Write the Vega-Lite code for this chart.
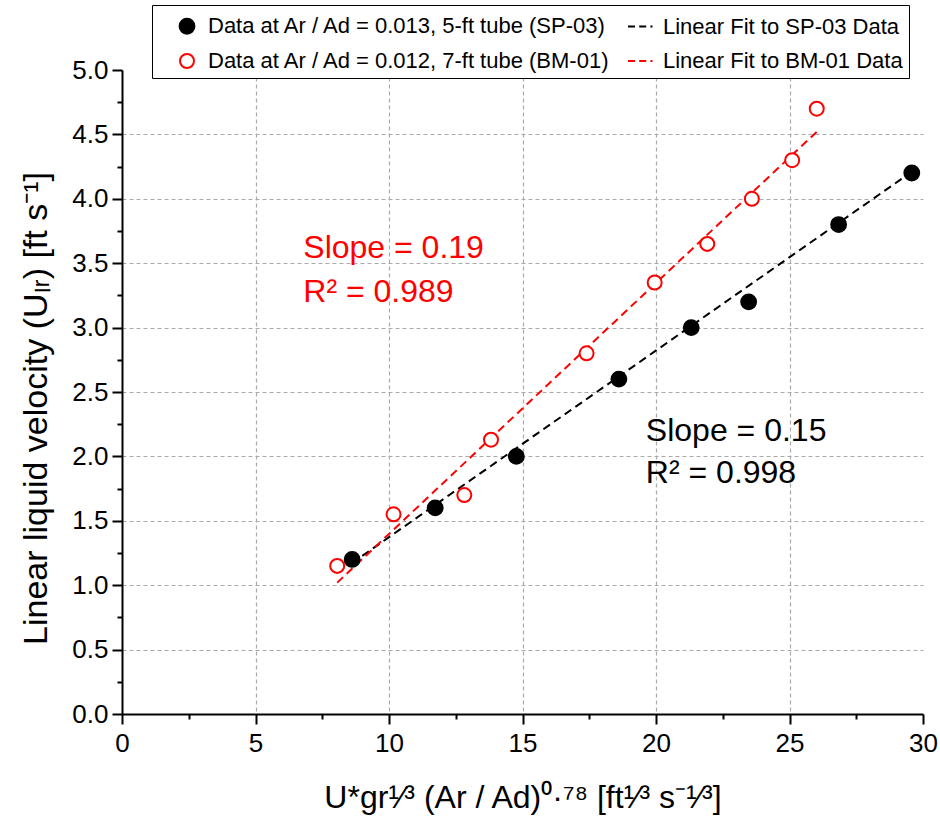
{
  "$schema": "https://vega.github.io/schema/vega-lite/v6.json",
  "width": 801,
  "height": 644,
  "autosize": {"type": "none"},
  "padding": {"left": 122, "top": 70, "right": 17, "bottom": 115},
  "background": "white",
  "config": {
    "font": "Liberation Sans",
    "view": {"stroke": null},
    "axis": {
      "domainColor": "black", "domainWidth": 2,
      "tickColor": "black", "tickWidth": 2,
      "labelFont": "Liberation Sans", "labelFontSize": 26, "labelColor": "black",
      "titleFont": "Liberation Sans", "titleFontSize": 32, "titleFontWeight": "normal", "titleColor": "black",
      "gridColor": "#aaaaaa", "gridDash": [4, 3], "gridWidth": 1.2,
      "labelOverlap": false, "labelFlush": false
    },
    "legend": {
      "orient": "none", "legendX": 30, "legendY": -65,
      "columns": 2, "direction": "horizontal",
      "strokeColor": "black", "fillColor": "white", "padding": 6,
      "labelFont": "Liberation Sans", "labelFontSize": 22, "labelColor": "black",
      "symbolSize": 784, "symbolStrokeWidth": 2, "symbolOffset": 14,
      "rowPadding": 8, "columnPadding": 2, "labelOffset": 6, "labelLimit": 600
    }
  },
  "data": {
    "values": [
      {"kind": "data", "series": "Data at Ar / Ad = 0.013, 5-ft tube (SP-03)", "x": 8.62, "y": 1.2},
      {"kind": "data", "series": "Data at Ar / Ad = 0.013, 5-ft tube (SP-03)", "x": 11.73, "y": 1.6},
      {"kind": "data", "series": "Data at Ar / Ad = 0.013, 5-ft tube (SP-03)", "x": 14.77, "y": 2.0},
      {"kind": "data", "series": "Data at Ar / Ad = 0.013, 5-ft tube (SP-03)", "x": 18.61, "y": 2.6},
      {"kind": "data", "series": "Data at Ar / Ad = 0.013, 5-ft tube (SP-03)", "x": 21.32, "y": 3.0},
      {"kind": "data", "series": "Data at Ar / Ad = 0.013, 5-ft tube (SP-03)", "x": 23.47, "y": 3.2},
      {"kind": "data", "series": "Data at Ar / Ad = 0.013, 5-ft tube (SP-03)", "x": 26.84, "y": 3.8},
      {"kind": "data", "series": "Data at Ar / Ad = 0.013, 5-ft tube (SP-03)", "x": 29.58, "y": 4.2},
      {"kind": "data", "series": "Data at Ar / Ad = 0.012, 7-ft tube (BM-01)", "x": 8.06, "y": 1.15},
      {"kind": "data", "series": "Data at Ar / Ad = 0.012, 7-ft tube (BM-01)", "x": 10.17, "y": 1.55},
      {"kind": "data", "series": "Data at Ar / Ad = 0.012, 7-ft tube (BM-01)", "x": 12.82, "y": 1.7},
      {"kind": "data", "series": "Data at Ar / Ad = 0.012, 7-ft tube (BM-01)", "x": 13.82, "y": 2.13},
      {"kind": "data", "series": "Data at Ar / Ad = 0.012, 7-ft tube (BM-01)", "x": 17.4, "y": 2.8},
      {"kind": "data", "series": "Data at Ar / Ad = 0.012, 7-ft tube (BM-01)", "x": 19.95, "y": 3.35},
      {"kind": "data", "series": "Data at Ar / Ad = 0.012, 7-ft tube (BM-01)", "x": 21.92, "y": 3.65},
      {"kind": "data", "series": "Data at Ar / Ad = 0.012, 7-ft tube (BM-01)", "x": 23.59, "y": 4.0},
      {"kind": "data", "series": "Data at Ar / Ad = 0.012, 7-ft tube (BM-01)", "x": 25.1, "y": 4.3},
      {"kind": "data", "series": "Data at Ar / Ad = 0.012, 7-ft tube (BM-01)", "x": 26.02, "y": 4.7},
      {"kind": "fit", "series": "Linear Fit to SP-03 Data", "x": 8.6, "y": 1.17},
      {"kind": "fit", "series": "Linear Fit to SP-03 Data", "x": 29.58, "y": 4.21},
      {"kind": "fit", "series": "Linear Fit to BM-01 Data", "x": 8.06, "y": 1.02},
      {"kind": "fit", "series": "Linear Fit to BM-01 Data", "x": 26.02, "y": 4.52},
      {"kind": "note", "group": "BM-01", "label": "Slope = 0.19", "x": 6.79, "y": 3.62},
      {"kind": "note", "group": "BM-01", "label": "R² = 0.989", "x": 6.79, "y": 3.275},
      {"kind": "note", "group": "SP-03", "label": "Slope = 0.15", "x": 19.62, "y": 2.2},
      {"kind": "note", "group": "SP-03", "label": "R² = 0.998", "x": 19.62, "y": 1.871}
    ]
  },
  "encoding": {
    "x": {
      "field": "x", "type": "quantitative",
      "scale": {"domain": [0, 30], "nice": false, "zero": false},
      "axis": {
        "title": "U*gr¹⁄³ (Ar / Ad)⁰·⁷⁸ [ft¹⁄³ s⁻¹⁄³]",
        "values": [0, 2.5, 5, 7.5, 10, 12.5, 15, 17.5, 20, 22.5, 25, 27.5, 30],
        "labelExpr": "datum.value % 5 === 0 ? format(datum.value, 'd') : ''",
        "tickSize": {"condition": {"test": "datum.value % 5 !== 0", "value": 5}, "value": 10},
        "gridOpacity": {"condition": {"test": "datum.value % 5 !== 0 || datum.value <= 0 || datum.value >= 30", "value": 0}, "value": 1},
        "grid": true,
        "labelPadding": 6,
        "titlePadding": 26
      }
    },
    "y": {
      "field": "y", "type": "quantitative",
      "scale": {"domain": [0, 5], "nice": false, "zero": false},
      "axis": {
        "title": "Linear liquid velocity (Uₗᵣ) [ft s⁻¹]",
        "titleFontSize": 34,
        "titleY": 338,
        "values": [0, 0.25, 0.5, 0.75, 1, 1.25, 1.5, 1.75, 2, 2.25, 2.5, 2.75, 3, 3.25, 3.5, 3.75, 4, 4.25, 4.5, 4.75, 5],
        "labelExpr": "datum.value % 0.5 === 0 ? format(datum.value, '.1f') : ''",
        "tickSize": {"condition": {"test": "datum.value % 0.5 !== 0", "value": 5}, "value": 10},
        "gridOpacity": {"condition": {"test": "datum.value % 0.5 !== 0 || datum.value <= 0 || datum.value >= 5", "value": 0}, "value": 1},
        "grid": true,
        "labelPadding": 4,
        "titlePadding": 18
      }
    }
  },
  "layer": [
    {
      "transform": [{"filter": "datum.kind === 'fit'"}],
      "mark": {"type": "line", "strokeDash": [8, 5], "strokeWidth": 2},
      "encoding": {
        "stroke": {
          "field": "series", "type": "nominal", "title": null,
          "scale": {
            "domain": ["Data at Ar / Ad = 0.013, 5-ft tube (SP-03)", "Linear Fit to SP-03 Data", "Data at Ar / Ad = 0.012, 7-ft tube (BM-01)", "Linear Fit to BM-01 Data"],
            "range": ["black", "black", "#ff0000", "#ff0000"]
          }
        }
      }
    },
    {
      "transform": [{"filter": "datum.kind === 'data'"}],
      "mark": {"type": "point", "size": 784, "strokeWidth": 2, "opacity": 1},
      "encoding": {
        "stroke": {"field": "series", "type": "nominal", "title": null},
        "fill": {
          "field": "series", "type": "nominal", "title": null,
          "scale": {
            "domain": ["Data at Ar / Ad = 0.013, 5-ft tube (SP-03)", "Linear Fit to SP-03 Data", "Data at Ar / Ad = 0.012, 7-ft tube (BM-01)", "Linear Fit to BM-01 Data"],
            "range": ["black", "transparent", "white", "transparent"]
          }
        },
        "shape": {
          "field": "series", "type": "nominal", "title": null,
          "scale": {
            "domain": ["Data at Ar / Ad = 0.013, 5-ft tube (SP-03)", "Linear Fit to SP-03 Data", "Data at Ar / Ad = 0.012, 7-ft tube (BM-01)", "Linear Fit to BM-01 Data"],
            "range": ["M0.53,0A0.53,0.53,0,1,1,-0.53,0A0.53,0.53,0,1,1,0.53,0Z", "M-1,0L-0.5,0M-0.2,0L0.3,0M0.6,0L0.75,0", "M0.5,0A0.5,0.5,0,1,1,-0.5,0A0.5,0.5,0,1,1,0.5,0Z", "M-1,0L-0.5,0M-0.2,0L0.3,0M0.6,0L0.75,0"]
          }
        }
      }
    },
    {
      "transform": [{"filter": "datum.kind === 'note' && datum.group === 'BM-01'"}],
      "mark": {"type": "text", "align": "left", "baseline": "middle", "fontSize": 32, "color": "#ff0000", "font": "Liberation Sans"},
      "encoding": {"text": {"field": "label", "type": "nominal"}}
    },
    {
      "transform": [{"filter": "datum.kind === 'note' && datum.group === 'SP-03'"}],
      "mark": {"type": "text", "align": "left", "baseline": "middle", "fontSize": 32, "color": "black", "font": "Liberation Sans"},
      "encoding": {"text": {"field": "label", "type": "nominal"}}
    }
  ]
}
